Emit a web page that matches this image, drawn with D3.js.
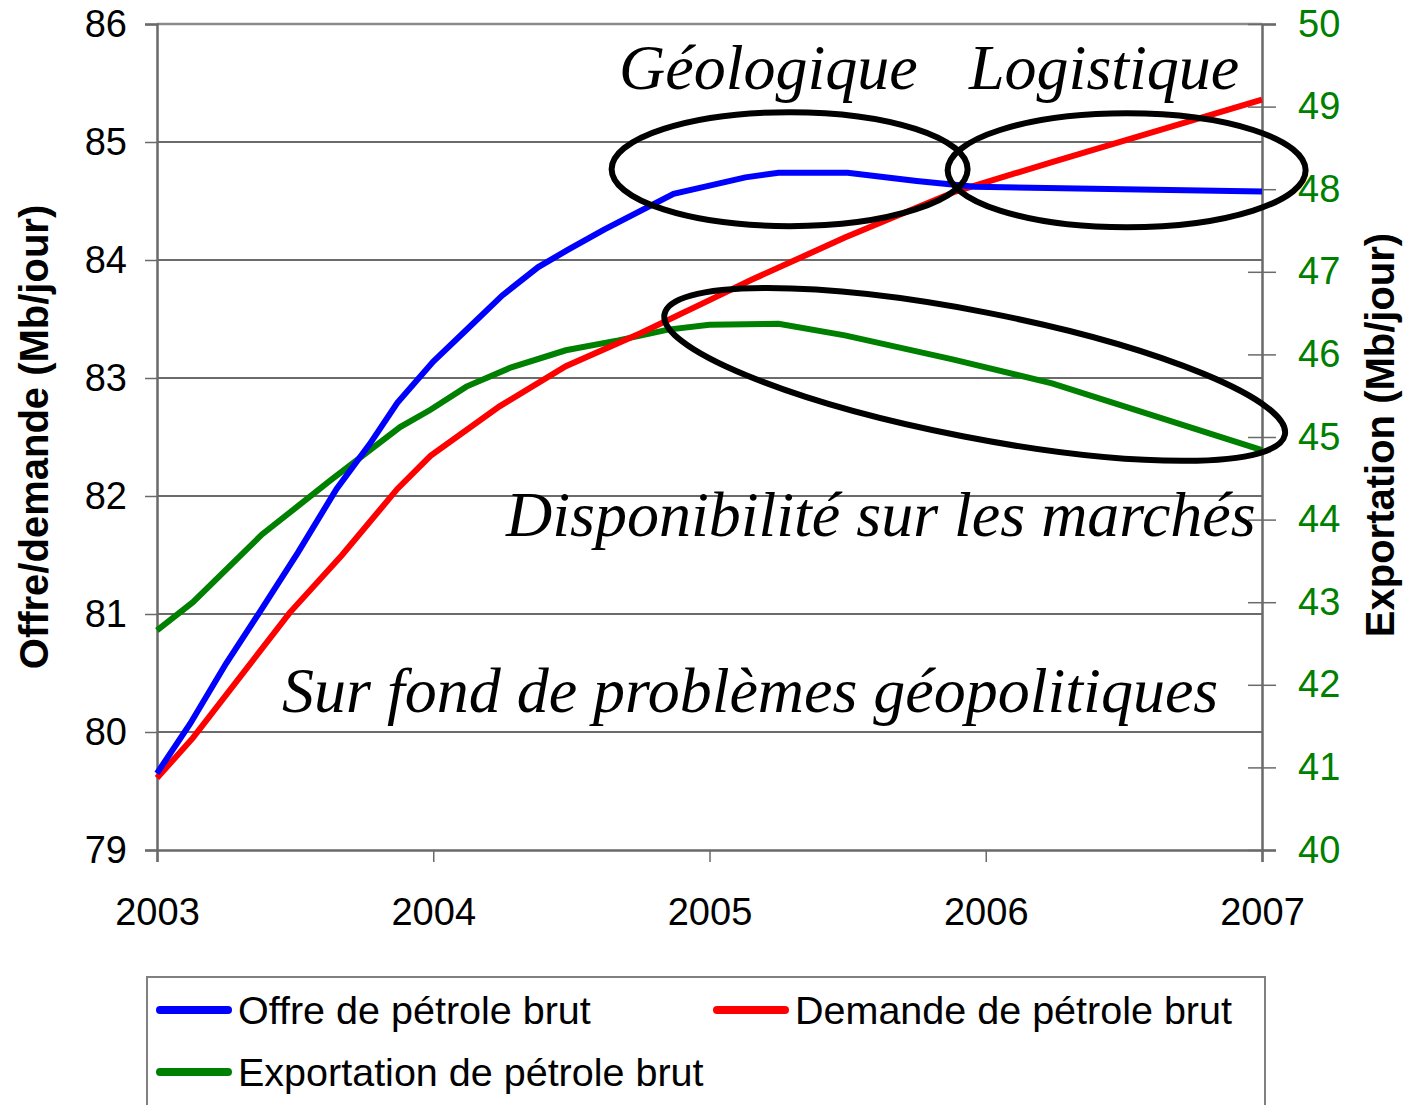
<!DOCTYPE html>
<html>
<head>
<meta charset="utf-8">
<script src="https://cdn.jsdelivr.net/npm/d3@7"></script>
<style>
  body { margin: 0; background: #fff; }
  svg { display: block; }
</style>
</head>
<body>
<div class="canvas"></div>
<script>
// years on the x axis
const xTicks = [2003, 2004, 2005, 2006, 2007]
const leftTicks = [79, 80, 81, 82, 83, 84, 85, 86]
const rightTicks = [40, 41, 42, 43, 44, 45, 46, 47, 48, 49, 50]

// Offre de pétrole brut (Mb/jour, left axis)
const offreYears = [2003.00, 2003.12, 2003.25, 2003.37, 2003.51, 2003.65, 2003.77, 2003.87, 2004.00, 2004.13, 2004.25, 2004.38, 2004.49, 2004.62, 2004.87, 2005.00, 2005.13, 2005.25, 2005.50, 2005.75, 2005.96, 2007.00]
const offreValues = [79.65, 80.07, 80.58, 81.01, 81.52, 82.06, 82.44, 82.79, 83.14, 83.43, 83.70, 83.94, 84.09, 84.26, 84.56, 84.63, 84.70, 84.74, 84.74, 84.67, 84.62, 84.58]

// Demande de pétrole brut (Mb/jour, left axis)
const demandeYears = [2003.00, 2003.13, 2003.48, 2003.67, 2003.87, 2003.99, 2004.24, 2004.48, 2004.75, 2005.00, 2005.15, 2005.49, 2005.89, 2006.24, 2007.00]
const demandeValues = [79.61, 79.95, 81.01, 81.50, 82.06, 82.34, 82.76, 83.10, 83.38, 83.66, 83.83, 84.19, 84.58, 84.83, 85.36]

// Exportation de pétrole brut (Mb/jour, right axis)
const exportYears = [2003.00, 2003.13, 2003.38, 2003.63, 2003.88, 2003.99, 2004.12, 2004.28, 2004.48, 2004.67, 2004.85, 2005.00, 2005.25, 2005.49, 2005.88, 2006.24, 2007.00]
const exportValues = [42.66, 43.00, 43.82, 44.48, 45.12, 45.33, 45.61, 45.84, 46.05, 46.17, 46.30, 46.36, 46.37, 46.23, 45.94, 45.65, 44.84]

const seriesNames = ['Offre de pétrole brut', 'Demande de pétrole brut', 'Exportation de pétrole brut']
const seriesColors = ['#0000ff', '#ff0000', '#008000']

const W = 1408, H = 1105
const margin = { top: 24, right: 146, bottom: 255, left: 157 }
const plotW = W - margin.left - margin.right
const plotH = H - margin.top - margin.bottom

const svg = d3.select('.canvas')
    .append('svg')
    .attr('width', W)
    .attr('height', H)
    .attr('viewBox', `0 0 ${W} ${H}`)

const x = d3.scaleLinear().domain([2003, 2007]).range([margin.left, margin.left + plotW])
const yL = d3.scaleLinear().domain([79, 86]).range([margin.top + plotH, margin.top])
const yR = d3.scaleLinear().domain([40, 50]).range([margin.top + plotH, margin.top])

const sans = "'Liberation Sans', Arial, sans-serif"
const serif = "'Liberation Serif', 'Times New Roman', serif"

// gridlines
svg.append('g')
    .selectAll('line')
    .data(leftTicks.filter(d => d > 79 && d < 86))
    .enter().append('line')
        .attr('x1', x(2003)).attr('x2', x(2007))
        .attr('y1', d => yL(d)).attr('y2', d => yL(d))
        .attr('stroke', '#3a3a3a')
        .attr('stroke-width', 1.5)

// top frame line
svg.append('line')
    .attr('x1', x(2003)).attr('x2', x(2007))
    .attr('y1', yL(86)).attr('y2', yL(86))
    .attr('stroke', '#8a8a8a').attr('stroke-width', 2.5)

// axes
const leftAxis = d3.axisLeft(yL).tickValues(leftTicks).tickSize(12).tickPadding(18).tickFormat(d3.format('d'))
const rightAxis = d3.axisRight(yR).tickValues(rightTicks).tickSize(14).tickPadding(22).tickFormat(d3.format('d'))
const bottomAxis = d3.axisBottom(x).tickValues(xTicks).tickSize(12).tickPadding(36).tickFormat(d3.format('d'))

const gLeft = svg.append('g').attr('transform', `translate(${x(2003)},0)`).call(leftAxis)
const gRight = svg.append('g').attr('transform', `translate(${x(2007)},0)`).call(rightAxis)
const gBottom = svg.append('g').attr('transform', `translate(0,${yL(79)})`).call(bottomAxis)

gRight.selectAll('.tick line').attr('x1', -14)

;[gLeft, gRight, gBottom].forEach(g => {
    g.select('.domain').attr('stroke', '#6a6a6a').attr('stroke-width', 2.5)
    g.selectAll('.tick line').attr('stroke', '#6a6a6a').attr('stroke-width', 1.5)
    g.selectAll('.tick text')
        .attr('font-family', sans)
        .attr('font-size', 38)
        .attr('fill', '#000')
})
gRight.selectAll('.tick text').attr('fill', '#008000')

// axis titles
svg.append('text')
    .attr('transform', `translate(48,${(yL(86) + yL(79)) / 2}) rotate(-90)`)
    .attr('text-anchor', 'middle')
    .attr('font-family', sans)
    .attr('font-weight', 'bold')
    .attr('font-size', 40)
    .text('Offre/demande (Mb/jour)')

svg.append('text')
    .attr('transform', `translate(1394,${(yL(86) + yL(79)) / 2 - 2}) rotate(-90)`)
    .attr('text-anchor', 'middle')
    .attr('font-family', sans)
    .attr('font-weight', 'bold')
    .attr('font-size', 40)
    .text('Exportation (Mb/jour)')

// series lines
const lineL = d3.line().x(d => x(d[0])).y(d => yL(d[1]))
const lineR = d3.line().x(d => x(d[0])).y(d => yR(d[1]))

const offre = d3.zip(offreYears, offreValues)
const demande = d3.zip(demandeYears, demandeValues)
const exportation = d3.zip(exportYears, exportValues)

svg.append('path').datum(exportation)
    .attr('fill', 'none').attr('stroke', seriesColors[2]).attr('stroke-width', 6)
    .attr('d', lineR)
svg.append('path').datum(demande)
    .attr('fill', 'none').attr('stroke', seriesColors[1]).attr('stroke-width', 6)
    .attr('d', lineL)
svg.append('path').datum(offre)
    .attr('fill', 'none').attr('stroke', seriesColors[0]).attr('stroke-width', 6)
    .attr('d', lineL)

// annotation ellipses
const ann = svg.append('g').attr('fill', 'none').attr('stroke', '#000').attr('stroke-width', 6)
ann.append('ellipse')
    .attr('cx', x(2005.29)).attr('cy', yL(84.77)).attr('rx', 178).attr('ry', 57)
ann.append('ellipse')
    .attr('cx', x(2006.51)).attr('cy', yL(84.76)).attr('rx', 179).attr('ry', 57)
ann.append('ellipse')
    .attr('transform', `translate(${x(2005.96)},${yL(83.03)}) rotate(11)`)
    .attr('rx', 316).attr('ry', 63)

// annotation texts
const notes = [
    { t: 'Géologique', x: 619, y: 89 },
    { t: 'Logistique', x: 969, y: 89 },
    { t: 'Disponibilité sur les marchés', x: 506, y: 536 },
    { t: 'Sur fond de problèmes géopolitiques', x: 282, y: 712 }
]
svg.append('g').selectAll('text')
    .data(notes)
    .enter().append('text')
        .attr('x', d => d.x)
        .attr('y', d => d.y)
        .attr('font-family', serif)
        .attr('font-style', 'italic')
        .attr('font-size', 64)
        .text(d => d.t)

// legend
const legend = svg.append('g')
legend.append('rect')
    .attr('x', 147).attr('y', 977)
    .attr('width', 1118).attr('height', 160)
    .attr('fill', '#fff')
    .attr('stroke', '#808080').attr('stroke-width', 2)

const legendPos = [[160, 1010], [717, 1010], [160, 1072]]
seriesNames.forEach((name, i) => {
    const [lx, ly] = legendPos[i]
    legend.append('line')
        .attr('x1', lx).attr('x2', lx + 68)
        .attr('y1', ly).attr('y2', ly)
        .attr('stroke', seriesColors[i]).attr('stroke-width', 8)
        .attr('stroke-linecap', 'round')
    legend.append('text')
        .attr('x', lx + 78).attr('y', ly)
        .attr('dy', '0.35em')
        .attr('font-family', sans)
        .attr('font-size', 39.5)
        .text(name)
})
</script>
</body>
</html>
